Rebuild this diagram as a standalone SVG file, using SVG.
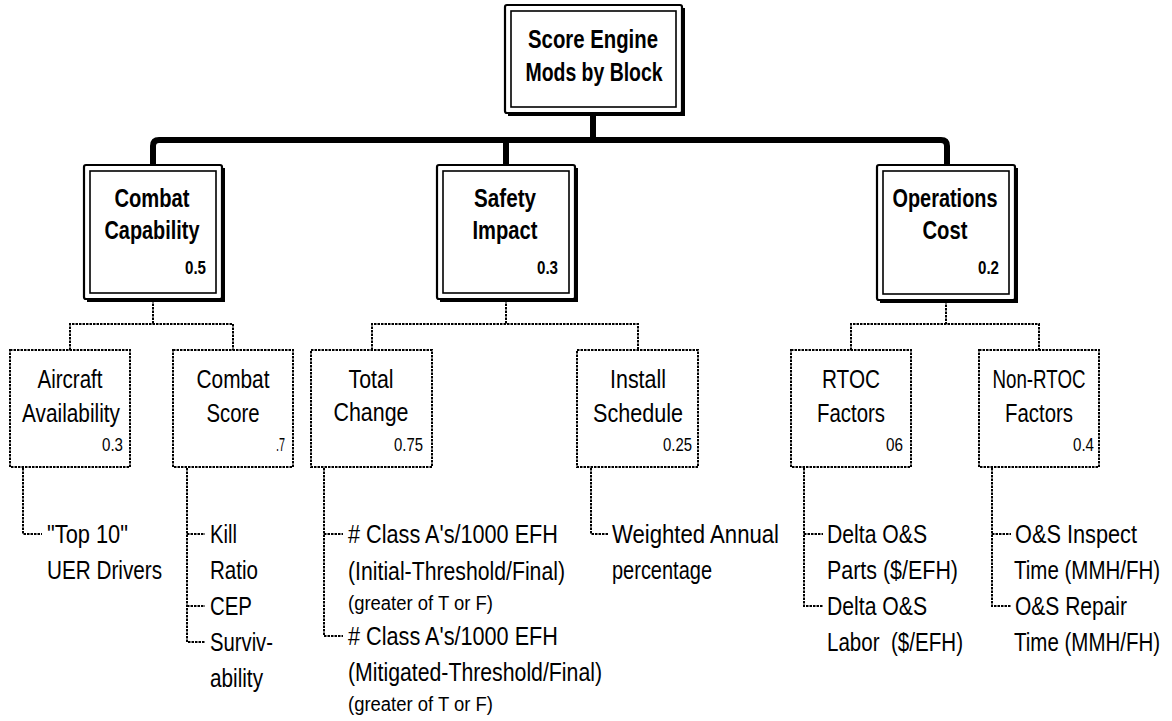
<svg xmlns="http://www.w3.org/2000/svg" width="1172" height="721" viewBox="0 0 1172 721">
<style>
text{font-family:"Liberation Sans Narrow","Liberation Sans",Arial,sans-serif;fill:#000}
.b{font-weight:bold;font-size:26px;text-anchor:middle}
.bw{font-weight:bold;font-size:18px;text-anchor:end}
.r{font-size:25px;text-anchor:middle}
.rw{font-size:18px;text-anchor:end}
.l{font-size:25px}
.s{font-size:20px}
.bo{fill:#fff;stroke:#000;stroke-width:2.2}
.bi{fill:none;stroke:#000;stroke-width:1.6}
.bs{fill:none;stroke:#000;stroke-width:3}
.db{fill:#fff;stroke:#000;stroke-width:2;stroke-dasharray:2.5 1}
.thick{fill:none;stroke:#000;stroke-width:6}
.dot{fill:none;stroke:#000;stroke-width:2;stroke-dasharray:2.5 1}
</style>
<rect width="1172" height="721" fill="#fff"/>
<g id="connectors">
<path class="thick" d="M593,113 V140 M153,166 V146 Q153,140 159,140 H941 Q947,140 947,146 V166 M506,140 V166"/>
<path class="dot" d="M153,300 V324 M70,350 V324 H233 V350 M506,300 V324 M372,350 V324 H638 V350 M946,301 V324 M851,350 V324 H1039 V350"/>
<path class="dot" d="M23,468 V534 H42 M187,468 V642 H205 M187,534 H205 M187,606 H205 M324,468 V636 H343 M324,534 H343 M591,468 V534 H608 M804,468 V606 H823 M804,534 H823 M992,468 V606 H1011 M992,534 H1011"/>
</g>
<g id="root">
<rect class="bo" x="505" y="5" width="177" height="108" rx="2"/>
<rect class="bi" x="511" y="11" width="165" height="96"/>
<path class="bs" d="M508,114.5 H683.5 V8"/>
<text class="b" x="593" y="48" textLength="130" lengthAdjust="spacingAndGlyphs">Score Engine</text>
<text class="b" x="594" y="81" textLength="137" lengthAdjust="spacingAndGlyphs">Mods by Block</text>
</g>
<g id="combat-capability">
<rect class="bo" x="84" y="165" width="138" height="134" rx="2"/>
<rect class="bi" x="90" y="171" width="126" height="122"/>
<path class="bs" d="M87,300.5 H223.5 V168"/>
<text class="b" x="152" y="207" textLength="75" lengthAdjust="spacingAndGlyphs">Combat</text>
<text class="b" x="152" y="239" textLength="95" lengthAdjust="spacingAndGlyphs">Capability</text>
<text class="bw" x="206" y="274" textLength="21" lengthAdjust="spacingAndGlyphs">0.5</text>
</g>
<g id="safety-impact">
<rect class="bo" x="437" y="165" width="138" height="134" rx="2"/>
<rect class="bi" x="443" y="171" width="126" height="122"/>
<path class="bs" d="M440,300.5 H576.5 V168"/>
<text class="b" x="505" y="207" textLength="62" lengthAdjust="spacingAndGlyphs">Safety</text>
<text class="b" x="505" y="239" textLength="65" lengthAdjust="spacingAndGlyphs">Impact</text>
<text class="bw" x="558" y="274" textLength="21" lengthAdjust="spacingAndGlyphs">0.3</text>
</g>
<g id="operations-cost">
<rect class="bo" x="877" y="165" width="138" height="135" rx="2"/>
<rect class="bi" x="883" y="171" width="126" height="123"/>
<path class="bs" d="M880,301.5 H1016.5 V168"/>
<text class="b" x="945" y="207" textLength="105" lengthAdjust="spacingAndGlyphs">Operations</text>
<text class="b" x="945" y="239" textLength="45" lengthAdjust="spacingAndGlyphs">Cost</text>
<text class="bw" x="999" y="274" textLength="21" lengthAdjust="spacingAndGlyphs">0.2</text>
</g>
<g id="aircraft-availability">
<rect class="db" x="10" y="350" width="120" height="117"/>
<text class="r" x="70" y="388" textLength="65" lengthAdjust="spacingAndGlyphs">Aircraft</text>
<text class="r" x="71" y="422" textLength="98" lengthAdjust="spacingAndGlyphs">Availability</text>
<text class="rw" x="123" y="451" textLength="21" lengthAdjust="spacingAndGlyphs">0.3</text>
</g>
<g id="combat-score">
<rect class="db" x="173" y="350" width="120" height="117"/>
<text class="r" x="233" y="388" textLength="73" lengthAdjust="spacingAndGlyphs">Combat</text>
<text class="r" x="233" y="422" textLength="53" lengthAdjust="spacingAndGlyphs">Score</text>
<text class="rw" x="285" y="451" textLength="9" lengthAdjust="spacingAndGlyphs">.7</text>
</g>
<g id="total-change">
<rect class="db" x="311" y="350" width="121" height="117"/>
<text class="r" x="371" y="388" textLength="45" lengthAdjust="spacingAndGlyphs">Total</text>
<text class="r" x="371" y="421" textLength="75" lengthAdjust="spacingAndGlyphs">Change</text>
<text class="rw" x="423" y="451" textLength="29" lengthAdjust="spacingAndGlyphs">0.75</text>
</g>
<g id="install-schedule">
<rect class="db" x="577" y="350" width="121" height="117"/>
<text class="r" x="638" y="388" textLength="56" lengthAdjust="spacingAndGlyphs">Install</text>
<text class="r" x="638" y="422" textLength="90" lengthAdjust="spacingAndGlyphs">Schedule</text>
<text class="rw" x="692" y="451" textLength="29" lengthAdjust="spacingAndGlyphs">0.25</text>
</g>
<g id="rtoc-factors">
<rect class="db" x="791" y="350" width="120" height="117"/>
<text class="r" x="851" y="388" textLength="58" lengthAdjust="spacingAndGlyphs">RTOC</text>
<text class="r" x="851" y="422" textLength="68" lengthAdjust="spacingAndGlyphs">Factors</text>
<text class="rw" x="903" y="451" textLength="17" lengthAdjust="spacingAndGlyphs">06</text>
</g>
<g id="non-rtoc-factors">
<rect class="db" x="979" y="350" width="120" height="117"/>
<text class="r" x="1039" y="388" textLength="93" lengthAdjust="spacingAndGlyphs">Non-RTOC</text>
<text class="r" x="1039" y="422" textLength="68" lengthAdjust="spacingAndGlyphs">Factors</text>
<text class="rw" x="1094" y="451" textLength="21" lengthAdjust="spacingAndGlyphs">0.4</text>
</g>
<g id="uer-drivers">
<text class="l" x="47" y="543" textLength="81" lengthAdjust="spacingAndGlyphs">"Top 10"</text>
<text class="l" x="47" y="579" textLength="115" lengthAdjust="spacingAndGlyphs">UER Drivers</text>
</g>
<g id="kill-ratio">
<text class="l" x="210" y="543" textLength="27" lengthAdjust="spacingAndGlyphs">Kill</text>
<text class="l" x="210" y="579" textLength="48" lengthAdjust="spacingAndGlyphs">Ratio</text>
</g>
<g id="cep">
<text class="l" x="210" y="615" textLength="42" lengthAdjust="spacingAndGlyphs">CEP</text>
</g>
<g id="survivability">
<text class="l" x="210" y="651" textLength="63" lengthAdjust="spacingAndGlyphs">Surviv-</text>
<text class="l" x="210" y="687" textLength="53" lengthAdjust="spacingAndGlyphs">ability</text>
</g>
<g id="class-a-initial">
<text class="l" x="348" y="543" textLength="210" lengthAdjust="spacingAndGlyphs"># Class A's/1000 EFH</text>
<text class="l" x="348" y="580" textLength="217" lengthAdjust="spacingAndGlyphs">(Initial-Threshold/Final)</text>
<text class="s" x="348" y="610" textLength="145" lengthAdjust="spacingAndGlyphs">(greater of T or F)</text>
</g>
<g id="class-a-mitigated">
<text class="l" x="348" y="645" textLength="210" lengthAdjust="spacingAndGlyphs"># Class A's/1000 EFH</text>
<text class="l" x="348" y="681" textLength="254" lengthAdjust="spacingAndGlyphs">(Mitigated-Threshold/Final)</text>
<text class="s" x="348" y="711" textLength="145" lengthAdjust="spacingAndGlyphs">(greater of T or F)</text>
</g>
<g id="weighted-annual">
<text class="l" x="612" y="543" textLength="167" lengthAdjust="spacingAndGlyphs">Weighted Annual</text>
<text class="l" x="612" y="579" textLength="100" lengthAdjust="spacingAndGlyphs">percentage</text>
</g>
<g id="delta-parts">
<text class="l" x="827" y="543" textLength="100" lengthAdjust="spacingAndGlyphs">Delta O&amp;S</text>
<text class="l" x="827" y="579" textLength="131" lengthAdjust="spacingAndGlyphs">Parts ($/EFH)</text>
</g>
<g id="delta-labor">
<text class="l" x="827" y="615" textLength="100" lengthAdjust="spacingAndGlyphs">Delta O&amp;S</text>
<text class="l" x="827" y="651" textLength="136" lengthAdjust="spacingAndGlyphs" xml:space="preserve">Labor  ($/EFH)</text>
</g>
<g id="inspect-time">
<text class="l" x="1015" y="543" textLength="122" lengthAdjust="spacingAndGlyphs">O&amp;S Inspect</text>
<text class="l" transform="translate(1014,579) scale(0.82,1)" x="0" y="0">Time (MMH/FH)</text>
</g>
<g id="repair-time">
<text class="l" x="1015" y="615" textLength="112" lengthAdjust="spacingAndGlyphs">O&amp;S Repair</text>
<text class="l" transform="translate(1014,651) scale(0.82,1)" x="0" y="0">Time (MMH/FH)</text>
</g>
</svg>
